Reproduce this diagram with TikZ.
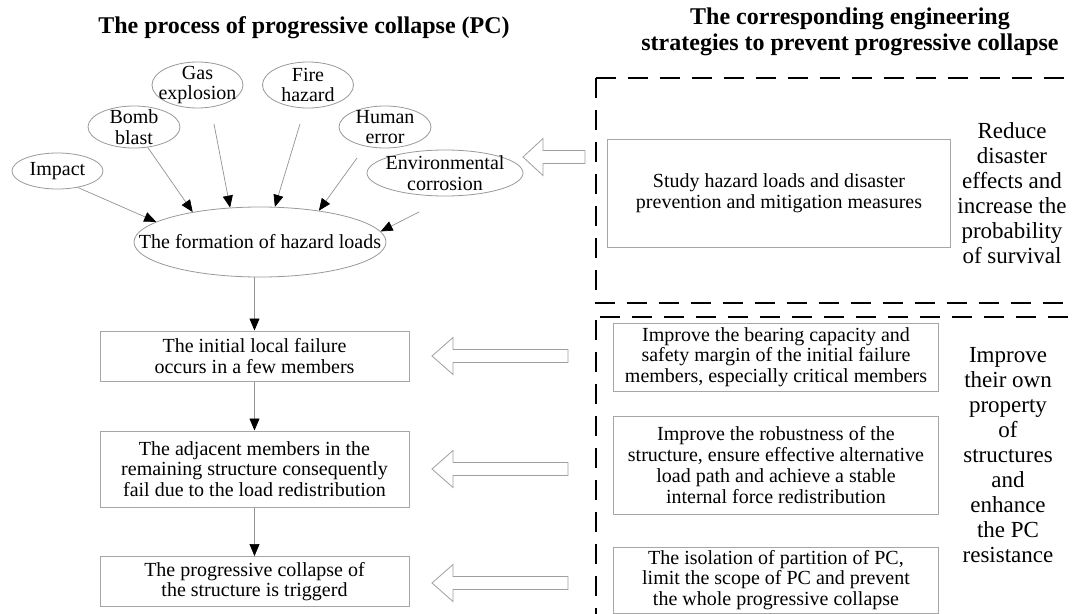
\documentclass[tikz,border=0pt]{standalone}
\usepackage{fontspec}
\setmainfont{Liberation Serif}
\usetikzlibrary{arrows.meta,shapes.geometric,calc}
\newcommand\hollowarr[4]{%
  \draw[hollow] (#1,#4) -- (#2,#4-18.5) -- (#2,#4-6.5) -- (#3,#4-6.5) -- (#3,#4+6.5) -- (#2,#4+6.5) -- (#2,#4+18.5) -- cycle;}
\tikzset{
  txt/.style={font=\fontsize{20}{20.7}\selectfont, text=black, align=center},
  ell/.style={ellipse, draw=gray!80, line width=0.8pt, inner sep=0pt},
  rbox/.style={rectangle, draw=gray!70, line width=1pt, inner sep=0pt, txt},
  conn/.style={draw=gray!85, line width=0.7pt, -{Triangle[length=12pt,width=10pt,color=black]}},
  dashbox/.style={draw=black, line width=2.4pt, dash pattern=on 20pt off 12pt},
  hollow/.style={draw=gray!75, line width=0.8pt, fill=white},
  ttl/.style={font=\fontsize{24}{26}\selectfont\bfseries, align=center},
  side/.style={font=\fontsize{23}{25}\selectfont, align=center},
}
\begin{document}
\begin{tikzpicture}[x=1pt, y=-1pt]
\useasboundingbox (0,0) rectangle (1075,613);
\clip (0,0) rectangle (1075,613);
\fill[white] (0,0) rectangle (1075,613);

% titles
\node[ttl] (t1) at (304,27.5) {The process of progressive collapse (PC)};
\node[ttl] (t2) at (850,32) {The corresponding engineering\\strategies to prevent progressive collapse};

% hazard ellipses
\node[ell, minimum width=91pt, minimum height=36pt, label={[txt,name=impactT]center:Impact}] (impact) at (57.5,171) {};
\node[ell, minimum width=92pt, minimum height=42pt, label={[txt,name=bombT]center:Bomb\\blast}] (bomb) at (134,127) {};
\node[ell, minimum width=91pt, minimum height=46pt, label={[txt,name=gasT]center:Gas\\explosion}] (gas) at (197.5,85) {};
\node[ell, minimum width=91pt, minimum height=46pt, label={[txt,name=fireT]center:Fire\\hazard}] (fire) at (308,85) {};
\node[ell, minimum width=92pt, minimum height=42pt, label={[txt,name=humanT]center:Human\\error}] (human) at (385,127) {};
\node[ell, minimum width=156pt, minimum height=46pt, label={[txt,name=envT]center:Environmental\\corrosion}] (env) at (445,173) {};
\node[ell, minimum width=252pt, minimum height=70pt, label={[txt,name=formT]center:The formation of hazard loads}] (form) at (260,242) {};

\coordinate (gasS) at (214,124);
\coordinate (fireS) at (300,124);
\coordinate (humanS) at (357,158);
\coordinate (envS) at (419,212);

\draw[conn] (impact.-39) -- (form.169.8);
\draw[conn] (bomb.-56) -- (form.156.7);
\draw[conn] (gasS) -- (form.131.6);
\draw[conn] (fireS) -- (form.67.9);
\draw[conn] (humanS) -- (form.28.1);
\draw[conn] (envS) -- (form.5.7);

% process boxes
\node[rbox, minimum width=309pt, minimum height=50pt] (b1) at (254.5,356) {The initial local failure\\occurs in a few members};
\node[rbox, minimum width=309pt, minimum height=76pt] (b2) at (254.5,469) {The adjacent members in the\\remaining structure consequently\\fail due to the load redistribution};
\node[rbox, minimum width=309pt, minimum height=50pt] (b3) at (254.5,581.5) {The progressive collapse of\\the structure is triggerd};

\draw[conn] (form.south -| b1.north) -- (b1.north);
\draw[conn] (b1.south) -- (b2.north);
\draw[conn] (b2.south) -- (b3.north);

% strategy boxes
\node[rbox, minimum width=343pt, minimum height=108pt] (study) at (779,193) {Study hazard loads and disaster\\prevention and mitigation measures};
\node[rbox, minimum width=325pt, minimum height=68pt] (bear) at (776,357) {Improve the bearing capacity and\\safety margin of the initial failure\\members, especially critical members};
\node[rbox, minimum width=325pt, minimum height=98pt] (robust) at (776,465) {Improve the robustness of the\\structure, ensure effective alternative\\load path and achieve a stable\\internal force redistribution};
\node[rbox, minimum width=325pt, minimum height=66pt] (isol) at (776,580) {The isolation of partition of PC,\\limit the scope of PC and prevent\\the whole progressive collapse};

\node[side] (reduce) at (1012,193) {Reduce\\disaster\\effects and\\increase the\\probability\\of survival};
\node[side] (improve) at (1008,455) {Improve\\their own\\property\\of\\structures\\and\\enhance\\the PC\\resistance};

% dashed groups
\draw[dashbox] (596,78) -- (1100,78);
\draw[dashbox] (596,78) -- (596,303) -- (1100,303);
\draw[dashbox] (600,317) -- (1100,317);
\draw[dashbox] (596,320) -- (596,640);

% hollow arrows
\hollowarr{523}{543}{585}{157}
\hollowarr{432}{453}{568}{356}
\hollowarr{432}{453}{568}{469}
\hollowarr{432}{453}{568}{583}
\end{tikzpicture}
\end{document}
